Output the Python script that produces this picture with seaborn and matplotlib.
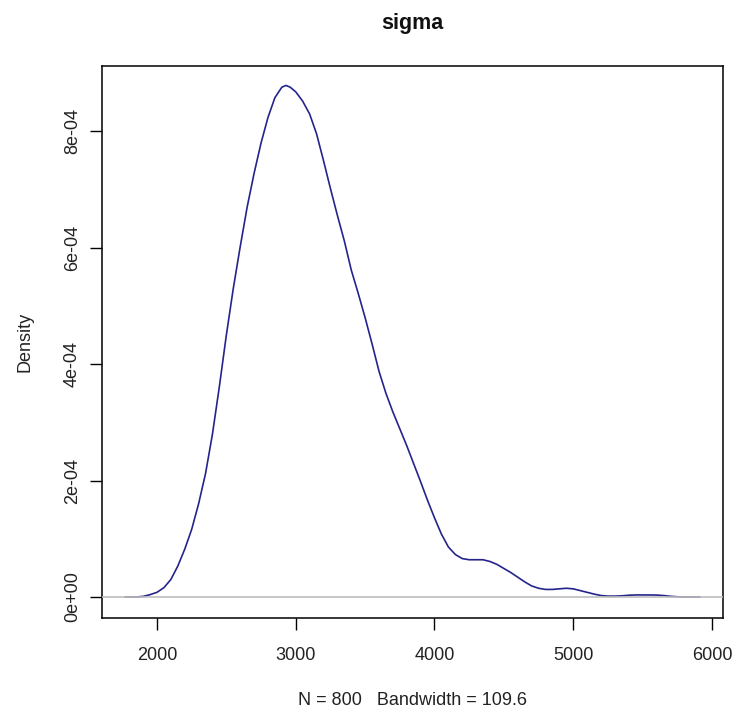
import matplotlib
matplotlib.use("Agg")
import matplotlib.pyplot as plt
import seaborn as sns
import pandas as pd

# ---- data (kernel density of sigma) ----
sigma_x = [1770, 1850, 1900, 1950, 2000, 2050, 2100, 2150, 2200, 2250, 2300,
           2350, 2400, 2450, 2500, 2550, 2600, 2650, 2700, 2750, 2800, 2850,
           2900, 2930, 2960, 3000, 3050, 3100, 3150, 3200, 3250, 3300, 3350,
           3400, 3450, 3500, 3550, 3600, 3650, 3700, 3750, 3800, 3850, 3900,
           3950, 4000, 4050, 4100, 4150, 4200, 4250, 4300, 4350, 4400, 4450,
           4500, 4550, 4600, 4650, 4700, 4750, 4800, 4850, 4900, 4950, 5000,
           5050, 5100, 5150, 5200, 5250, 5300, 5350, 5400, 5450, 5500, 5550,
           5600, 5650, 5700, 5750, 5800, 5913]
density = [0.0, 0.0, 1e-6, 4e-6, 8e-6, 1.6e-5, 3.0e-5, 5.3e-5, 8.2e-5,
           1.16e-4, 1.60e-4, 2.12e-4, 2.80e-4, 3.62e-4, 4.50e-4, 5.30e-4,
           6.02e-4, 6.70e-4, 7.28e-4, 7.80e-4, 8.24e-4, 8.58e-4, 8.76e-4,
           8.79e-4, 8.76e-4, 8.68e-4, 8.52e-4, 8.30e-4, 7.96e-4, 7.50e-4,
           7.02e-4, 6.56e-4, 6.12e-4, 5.62e-4, 5.22e-4, 4.80e-4, 4.35e-4,
           3.88e-4, 3.50e-4, 3.18e-4, 2.89e-4, 2.60e-4, 2.29e-4, 1.98e-4,
           1.66e-4, 1.36e-4, 1.08e-4, 8.6e-5, 7.3e-5, 6.6e-5, 6.4e-5, 6.4e-5,
           6.4e-5, 6.1e-5, 5.6e-5, 4.9e-5, 4.2e-5, 3.4e-5, 2.6e-5, 1.9e-5,
           1.5e-5, 1.3e-5, 1.3e-5, 1.4e-5, 1.5e-5, 1.4e-5, 1.1e-5, 8e-6, 5e-6,
           2.5e-6, 1.5e-6, 1.5e-6, 2e-6, 3e-6, 3.5e-6, 3.5e-6, 3.5e-6, 3.3e-6,
           2.5e-6, 1.2e-6, 4e-7, 0.0, 0.0]

x_ticks = [2000, 3000, 4000, 5000, 6000]
x_tick_labels = ["2000", "3000", "4000", "5000", "6000"]
y_ticks = [0.0, 2e-4, 4e-4, 6e-4, 8e-4]
y_tick_labels = ["0e+00", "2e-04", "4e-04", "6e-04", "8e-04"]

title_text = "sigma"
x_label = "N = 800   Bandwidth = 109.6"
y_label = "Density"

# ---- style ----
sns.set_style("white")
plt.rcParams["font.family"] = ["Liberation Sans", "DejaVu Sans"]

W, H = 738, 718
fig = plt.figure(figsize=(W / 100, H / 100), dpi=100)
ax = fig.add_axes([102 / W, 1 - 618 / H, 621 / W, 552 / H])

df = pd.DataFrame({"x": sigma_x, "density": density})
sns.lineplot(data=df, x="x", y="density", ax=ax, color="#24248c",
             linewidth=1.2, errorbar=None)
ax.axhline(0, color="#bebebe", linewidth=1.2, zorder=3)

ax.set_xlim(1604, 6079)
ax.set_ylim(-3.61e-5, 9.124e-4)

ax.set_xticks(x_ticks)
ax.set_xticklabels(x_tick_labels)
ax.set_yticks(y_ticks)
ax.set_yticklabels(y_tick_labels, rotation=90, va="center")

ax.tick_params(axis="both", direction="out", length=8.6, width=1.0,
               color="black", labelsize=13, labelcolor="#222222",
               bottom=True, left=True)
ax.tick_params(axis="x", pad=12)
ax.tick_params(axis="y", pad=6.5)

for s in ax.spines.values():
    s.set_visible(True)
    s.set_color("black")
    s.set_linewidth(1.1)

ax.set_xlabel(x_label, fontsize=13, color="#222222")
ax.xaxis.set_label_coords(0.5, -0.1486)
ax.xaxis.label.set_va("center")
ax.set_ylabel(y_label, fontsize=13, color="#222222")
ax.yaxis.set_label_coords(-0.124, 0.5)
ax.yaxis.label.set_va("center")

fig.text((102 + 723) / 2 / W, 1 - 29 / H, title_text, ha="center",
         va="baseline", fontsize=15.5, fontweight="bold", color="#111111")

fig.savefig("out.png", dpi=100, facecolor="white")
